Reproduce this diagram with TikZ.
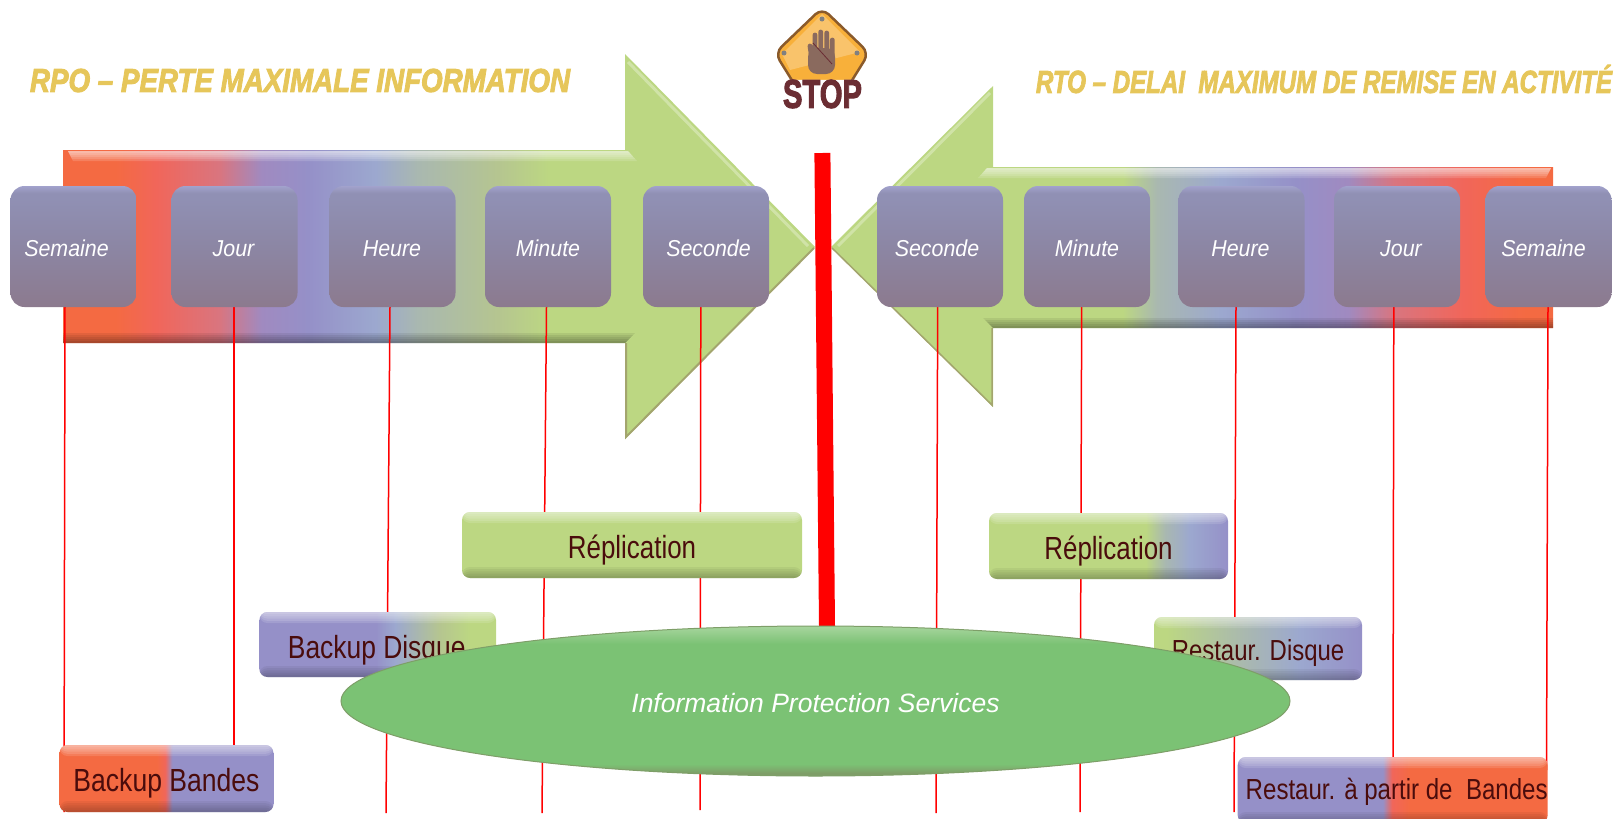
\documentclass[tikz,border=0pt]{standalone}
\usepackage{fontspec}
\setmainfont{Liberation Sans}
\usetikzlibrary{positioning, shapes.geometric, backgrounds}

\definecolor{coral}{HTML}{F46A42}
\definecolor{salmon}{HTML}{F1665A}
\definecolor{rose}{HTML}{D9757F}
\definecolor{mauve}{HTML}{A08AC0}
\definecolor{lilac}{HTML}{9590C8}
\definecolor{steel}{HTML}{9CA8CF}
\definecolor{sage}{HTML}{A9B8B0}
\definecolor{moss}{HTML}{B5C590}
\definecolor{leaf}{HTML}{BCD782}
\definecolor{inkred}{HTML}{4A0C0C}
\definecolor{gold}{HTML}{E6C65A}
\definecolor{maroon}{HTML}{6B2D33}
\definecolor{handbrown}{HTML}{8A6A5E}
\definecolor{olive}{HTML}{A3A56E}
\definecolor{slatelow}{HTML}{8C7A8E}
\definecolor{slatemid}{HTML}{8C86A4}
\definecolor{slatehigh}{HTML}{9090B4}
\definecolor{slatetop}{HTML}{A2A2CC}
\definecolor{ipsgreen}{HTML}{7BC274}
\definecolor{ipstop}{HTML}{A8D59E}
\definecolor{ipsrim}{HTML}{7E9E68}
\definecolor{signfill}{HTML}{F8B03A}
\definecolor{signedge}{HTML}{8A5A2B}

\pgfdeclarehorizontalshading{rpoflow}{100bp}{color(0bp)=(coral); color(28.5bp)=(coral); color(31.2bp)=(salmon); color(35.4bp)=(rose); color(38.2bp)=(mauve); color(41.3bp)=(lilac); color(45.8bp)=(steel); color(48.6bp)=(sage); color(53.9bp)=(moss); color(57.3bp)=(leaf); color(100bp)=(leaf)}
\pgfdeclarehorizontalshading{rtoflow}{100bp}{color(0bp)=(leaf); color(45.2bp)=(leaf); color(47.6bp)=(sage); color(52bp)=(steel); color(57.2bp)=(lilac); color(60.8bp)=(mauve); color(64bp)=(rose); color(68.8bp)=(salmon); color(73.1bp)=(coral); color(100bp)=(coral)}
\pgfdeclarehorizontalshading{bupdisk}{100bp}{color(0bp)=(lilac); color(49.6bp)=(lilac); color(53.7bp)=(steel); color(63bp)=(moss); color(69.5bp)=(leaf); color(100bp)=(leaf)}
\pgfdeclarehorizontalshading{bupband}{100bp}{color(0bp)=(coral); color(47.8bp)=(coral); color(49.7bp)=(salmon); color(51.3bp)=(lilac); color(100bp)=(lilac)}
\pgfdeclarehorizontalshading{repflow}{100bp}{color(0bp)=(leaf); color(57.8bp)=(leaf); color(61.8bp)=(sage); color(67bp)=(steel); color(75bp)=(lilac); color(100bp)=(lilac)}
\pgfdeclarehorizontalshading{resdisk}{100bp}{color(0bp)=(leaf); color(28bp)=(leaf); color(47bp)=(sage); color(59.9bp)=(steel); color(75bp)=(lilac); color(100bp)=(lilac)}
\pgfdeclarehorizontalshading{resband}{100bp}{color(0bp)=(lilac); color(48.4bp)=(lilac); color(49.9bp)=(salmon); color(52.8bp)=(coral); color(100bp)=(coral)}
\pgfdeclareverticalshading{timeshade}{100bp}{color(0bp)=(slatelow); color(25bp)=(slatelow); color(50bp)=(slatemid); color(70bp)=(slatehigh); color(72bp)=(slatehigh); color(75bp)=(slatetop); color(100bp)=(slatetop)}
\pgfdeclareverticalshading{ipsshade}{100bp}{color(0bp)=(ipsrim); color(26bp)=(ipsrim); color(29bp)=(ipsgreen); color(69bp)=(ipsgreen); color(75bp)=(ipstop); color(100bp)=(ipstop)}

\newcommand{\squeeze}[2]{\scalebox{#1}[1]{#2}}

\tikzset{
	bevel/.style={path picture={
		\foreach \k in {1,...,5} {
			\fill [white, opacity=.13] (path picture bounding box.north west) rectangle ([yshift=-#1*\k/5]path picture bounding box.north east);
			\fill [black, opacity=.05] (path picture bounding box.south west) rectangle ([yshift=#1*\k/5]path picture bounding box.south east);
		}
	}},
	timebox/.style={rounded corners=14pt, shade, shading=timeshade, minimum width=126pt, minimum height=121pt, inner sep=0pt, outer sep=0pt, text=white, text height=20pt, text depth=0pt, font=\fontsize{23}{28}\selectfont\itshape},
	levelbox/.style={rounded corners=8pt, shade, bevel=11pt, inner sep=0pt, outer sep=0pt, text=inkred, text height=26.5pt, text depth=0pt, font=\fontsize{32}{38}\selectfont},
	vline/.style={red, line width=1.5pt},
	title/.style={inner sep=0pt, text=gold, font=\bfseries\itshape\addfontfeature{FakeBold=3}}
}

\begin{document}
\begin{tikzpicture}[x=1pt, y=-1pt]
	\useasboundingbox (0,0) rectangle (1623,819);
	\clip (0,0) rectangle (1623,819);

	% titles
	\node [title] (rpotitle) at (300,80.5) {\resizebox{540pt}{23pt}{RPO – PERTE MAXIMALE INFORMATION}};
	\node [title] (rtotitle) at (1324,79) {\resizebox{576pt}{28pt}{RTO – DELAI\ \ MAXIMUM DE REMISE EN ACTIVITÉ}};

	% left row
	\node [timebox] (rposem) at (73.5,246.5) {\hspace{-14pt}\squeeze{.93}{Semaine}};
	\node [timebox] (rpojour) [right = 35pt of rposem] {\hspace{-2pt}\squeeze{.93}{Jour}};
	\node [timebox] (rpoheure) [right = 32pt of rpojour] {\hspace{-1pt}\squeeze{.93}{Heure}};
	\node [timebox] (rpomin) [right = 29.5pt of rpoheure] {\squeeze{.93}{Minute}};
	\node [timebox] (rposec) [right = 32pt of rpomin] {\hspace{5pt}\squeeze{.93}{Seconde}};

	% right row
	\node [timebox] (rtosec) at (940,246.5) {\hspace{-6pt}\squeeze{.93}{Seconde}};
	\node [timebox] (rtomin) [right = 21pt of rtosec] {\squeeze{.93}{Minute}};
	\node [timebox] (rtoheure) [right = 28.5pt of rtomin] {\hspace{-2pt}\squeeze{.93}{Heure}};
	\node [timebox] (rtojour) [right = 29.5pt of rtoheure] {\hspace{8pt}\squeeze{.93}{Jour}};
	\node [timebox] (rtosemaine) [right = 25.5pt of rtojour] {\hspace{-10pt}\squeeze{.93}{Semaine}};

	% services
	\node [levelbox, shading=bupdisk, minimum width=236.6pt, minimum height=65pt, text height=27pt] (bupdisque) at (377.7,644.5) {\hspace{-2pt}\squeeze{.825}{Backup Disque}};
	\node [levelbox, shading=bupband, minimum width=214pt, minimum height=67pt] (bupbandes) at (166.5,778.5) {\squeeze{.83}{Backup Bandes}};
	\node [levelbox, top color=leaf, bottom color=leaf, minimum width=340pt, minimum height=66pt] (repleft) at (632,545) {\squeeze{.81}{Réplication}};
	\node [levelbox, shading=repflow, minimum width=239pt, minimum height=66pt] (repright) at (1108.5,546) {\squeeze{.81}{Réplication}};
	\node [levelbox, shading=resdisk, minimum width=208pt, minimum height=63pt, text height=23.5pt, font=\fontsize{29}{35}\selectfont] (resdisque) at (1258,648.5) {\squeeze{.825}{Restaur. Disque}};
	\node [levelbox, shading=resband, minimum width=309.5pt, minimum height=66pt, text height=19pt, font=\fontsize{29}{35}\selectfont] (resbandes) at (1392.7,790) {\hspace{8pt}\squeeze{.83}{Restaur. à partir de\ \ Bandes}};
	\node [ellipse, draw=ipsrim, line width=1pt, shade, shading=ipsshade, minimum width=949pt, minimum height=150pt, inner sep=0pt, outer sep=0pt, text=white, text height=23pt, text depth=0pt, font=\fontsize{26.5}{32}\selectfont\itshape] (ips) at (815.5,701) {\squeeze{1}{Information Protection Services}};

	% line ends
	\coordinate (e1) at (64,812);
	\coordinate (e2) at (234,812);
	\coordinate (e3) at (386,813);
	\coordinate (e4) at (542,813);
	\coordinate (e5) at (700,810);
	\coordinate (e6) at (936,813);
	\coordinate (e7) at (1080,812);
	\coordinate (e8) at (1234,812);
	\coordinate (e9) at (1393,770);
	\coordinate (e10) at (1546.5,770);
	\coordinate (bartop) at (822.4,153);

	\begin{scope}[on background layer]
		% arrows
		\path [shade, shading=rpoflow] (63,150) -- (625,150) -- (625,54) -- (815,247) -- (625,439) -- (625,343) -- (63,343) -- cycle;
		\draw [white, opacity=.3, line width=3pt] (628,62) -- (808,246);
		\draw [olive, line width=2pt] (814,248) -- (626,437) -- (626,343);
		\path [shade, shading=rtoflow] (1553,167) -- (993,167) -- (993,86) -- (831,247) -- (993,407) -- (993,328) -- (1553,328) -- cycle;
		\draw [white, opacity=.3, line width=3pt] (990,93) -- (838,246);
		\draw [olive, line width=1.5pt] (832,248) -- (992,405) -- (992,328);
		\foreach \k in {1,...,5} {
			\fill [white, opacity=.15] (68,151) -- (628,151) -- (628+\k*1.8,151+\k*2) -- (68+\k,151+\k*2) -- cycle;
			\fill [black, opacity=.07] (63,343) -- (625,343) -- (625+\k*2,343-\k*2) -- (63,343-\k*2) -- cycle;
			\fill [white, opacity=.15] (1551,168) -- (987,168) -- (987-\k*1.8,168+\k*2) -- (1551-\k,168+\k*2) -- cycle;
			\fill [black, opacity=.07] (1553,328) -- (993,328) -- (993-\k*2,328-\k*2) -- (1553,328-\k*2) -- cycle;
		}

		% drop lines
		\path (rposem.south) ++(-8.5pt,0pt) edge [vline] (e1);
		\path (rpojour.south) ++(-.5pt,0pt) edge [vline] (e2);
		\path (rpoheure.south) ++(-2.5pt,0pt) edge [vline] (e3);
		\path (rpomin.south) ++(-1.5pt,0pt) edge [vline] (e4);
		\path (rposec.north) ++(-5pt,-2pt) edge [vline] (e5);
		\path (rtosec.south) ++(-2.3pt,0pt) edge [vline] (e6);
		\path (rtomin.south) ++(-5.3pt,0pt) edge [vline] (e7);
		\path (rtoheure.south) ++(-5.5pt,0pt) edge [vline] (e8);
		\path (rtojour.south) ++(-3.2pt,0pt) edge [vline] (e9);
		\path (rtosemaine.south) ++(-.5pt,0pt) edge [vline] (e10);

		% stop bar
		\draw [red, line width=16pt] (bartop) -- ([xshift=11.5pt]ips.north);
	\end{scope}

	% stop sign
	\draw [draw=signedge, line width=2.5pt, fill=signfill, rounded corners=9pt] (822,8) -- (869,53) -- (846,90) -- (798,90) -- (775,53) -- cycle;
	\fill [white, opacity=.25] (822,14) -- (860,52) -- (790,70) -- (782,54) -- cycle;
	\fill [gray] (822,19) circle (2.5pt) (784,53) circle (2.5pt) (857,53) circle (2.5pt);
	\draw [handbrown, line width=4.8pt, line cap=round] (815,35) -- (815,55) (820.7,32) -- (820.7,55) (826.7,33) -- (826.7,55) (832.3,40) -- (832.3,55) (810,46) -- (812,60);
	\fill [handbrown, rounded corners=9pt] (808,48) -- (835,48) -- (835,74) -- (808,74) -- cycle;
	\draw [maroon, line width=.8pt] (813,43) -- (832,64);
	\node [inner sep=0pt, fill=white, rounded corners=3pt, text=maroon, font=\bfseries\addfontfeature{FakeBold=3}] (stoptext) at (822.5,94) {\resizebox{79pt}{28pt}{STOP}};
\end{tikzpicture}
\end{document}
